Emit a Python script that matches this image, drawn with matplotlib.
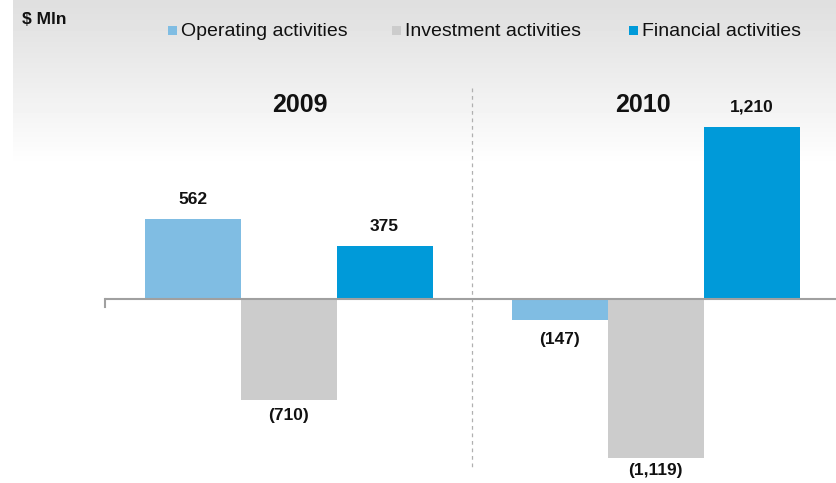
import numpy as np
import matplotlib
matplotlib.use("Agg")
import matplotlib.pyplot as plt
from matplotlib.patches import Rectangle

plt.rcParams['font.family'] = ['Liberation Sans', 'DejaVu Sans']

years = ["2009", "2010"]
series = ["Operating activities", "Investment activities", "Financial activities"]
operating = [562, -147]
investment = [-710, -1119]
financial = [375, 1210]
labels = [["562", "(710)", "375"], ["(147)", "(1,119)", "1,210"]]
colors = ["#80bde3", "#cccccc", "#009ad9"]

W, H = 837, 483
fig = plt.figure(figsize=(W / 100, H / 100), dpi=100)

# background gradient
bg = fig.add_axes([13 / W, 0, 1 - 13 / W, 1], zorder=0)
g = np.ones((H, 2))
top = 165
yy = np.arange(top)
g[:top, :] = (0.875 + 0.125 * (yy / top) ** 1.1)[:, None]
bg.imshow(g, cmap="gray", vmin=0, vmax=1, aspect="auto", extent=[0, 1, 0, 1], origin="upper")
bg.axis("off")

ax = fig.add_axes([105 / W, 0, (839 - 105) / W, 1], zorder=1)
ax.patch.set_alpha(0)
ax.set_xlim(-0.5, 1.5)
ax.set_ylim(-1291, 2098)
ax.axis("off")

bw = 96 / 367
x = np.arange(len(years))
data = [operating, investment, financial]
for i, vals in enumerate(data):
    xs = x + (i - 1) * bw
    ax.bar(xs, vals, width=bw, color=colors[i], edgecolor="none", zorder=2)
    for j, v in enumerate(vals):
        lab = labels[j][i]
        if v >= 0:
            off = 14
        elif lab == "(1,119)":
            off = -9
        elif lab == "(147)":
            off = -14
        else:
            off = -11
        ax.annotate(lab, (xs[j], v), xytext=(0, off), textcoords="offset points",
                    ha="center", va="center", fontsize=12.5, fontweight="bold", color="#111111")

# zero line and left tick
ax.axhline(0, color="#a0a0a0", lw=1.5, zorder=3)
ax.plot([-0.5, -0.5], [0, -8 / 0.1425], color="#a0a0a0", lw=1.5, zorder=3, clip_on=False)

# separator
ax.plot([0.5, 0.5], [(299 - 88) / 0.1425, -(470 - 299) / 0.1425], color="#b0b0b0",
        lw=0.9, ls=(0, (3, 3)), zorder=1)

# year labels
ax.text(0.031, (299 - 105) / 0.1425, years[0], ha="center", va="center",
        fontsize=18, fontweight="bold", color="#111111")
ax.text(0.966, (299 - 105) / 0.1425, years[1], ha="center", va="center",
        fontsize=18, fontweight="bold", color="#111111")

# unit label
fig.text(22 / W, 1 - 20 / H, "$ Mln", ha="left", va="center", fontsize=12.5,
         fontweight="bold", color="#111111")

# legend
sq_x = [168, 392, 629]
for i, name in enumerate(series):
    fig.patches.append(Rectangle((sq_x[i] / W, 1 - 35 / H), 9 / W, 9 / H,
                                 transform=fig.transFigure, facecolor=colors[i],
                                 edgecolor="none", zorder=5))
    fig.text((sq_x[i] + 13) / W, 1 - 32 / H, name, ha="left", va="center",
             fontsize=14, color="#111111")

fig.savefig("out.png", dpi=100)
